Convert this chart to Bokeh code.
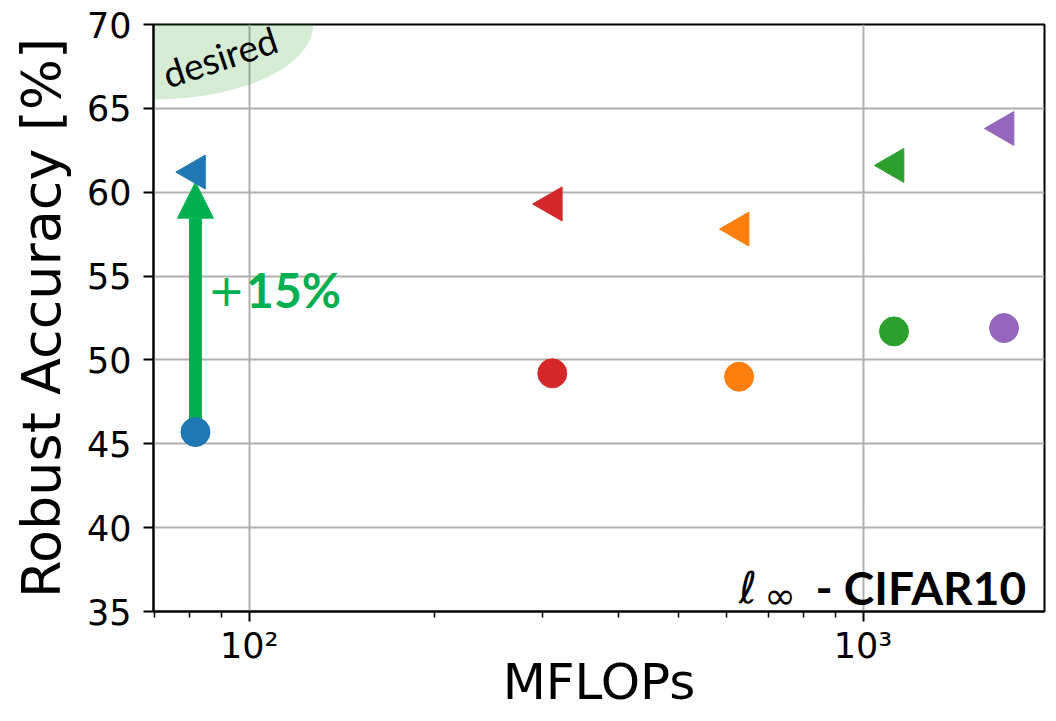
import numpy as np
from bokeh.plotting import figure
from bokeh.models import Range1d, FixedTicker, Arrow, NormalHead, ColumnDataSource
from bokeh.core.properties import value
from bokeh.embed import file_html
from bokeh.resources import INLINE

# ---- data ----
models = ["A", "B", "C", "D", "E"]
colors = ["#1f77b4", "#d62728", "#ff7f0e", "#2ca02c", "#9467bd"]
mflops = [81.7, 311.6, 628.0, 1123.0, 1697.0]
acc_baseline = [45.7, 49.2, 49.0, 51.7, 51.9]      # circles
acc_ours = [61.2, 59.3, 57.8, 61.6, 63.8]          # left triangles
y_ticks = [35, 40, 45, 50, 55, 60, 65, 70]
x_major = [100, 1000]
x_major_labels = {100: "10²", 1000: "10³"}
x_minor = [70, 80, 90, 200, 300, 400, 500, 600, 700, 800, 900, 2000]
gain_label = "15%"

GREEN = "#00b050"
FONT = "DejaVu Sans"

p = figure(width=1048, height=713, x_axis_type="log",
           x_range=Range1d(69.8, 1975), y_range=Range1d(35, 70),
           output_backend="svg", toolbar_location=None,
           min_border_left=153, min_border_right=4,
           min_border_top=24, min_border_bottom=100)
p.background_fill_color = "white"
p.border_fill_color = "white"
p.outline_line_color = "black"
p.outline_line_width = 2

# axes
p.xaxis.ticker = FixedTicker(ticks=x_major, minor_ticks=x_minor)
p.xaxis.major_label_overrides = x_major_labels
p.yaxis.ticker = FixedTicker(ticks=y_ticks)
for ax in (p.xaxis[0], p.yaxis[0]):
    ax.axis_line_width = 2
    ax.axis_line_color = "black"
    ax.major_tick_line_width = 2
    ax.minor_tick_line_width = 1.5
    ax.major_tick_out = 10
    ax.major_tick_in = 0
    ax.minor_tick_out = 6
    ax.minor_tick_in = 0
    ax.major_label_text_font = FONT
    ax.major_label_text_font_size = "35px"
    ax.major_label_text_color = "black"
    ax.axis_label_text_font = FONT
    ax.axis_label_text_font_style = "normal"
    ax.axis_label_text_color = "black"
p.yaxis.minor_tick_line_color = None
p.xaxis.axis_label = "MFLOPs"
p.yaxis.axis_label = "Robust Accuracy [%]"
p.xaxis.axis_label_text_font_size = "50px"
p.yaxis.axis_label_text_font_size = "54px"
p.xaxis.major_label_standoff = 4
p.yaxis.major_label_standoff = 12
p.xaxis.axis_label_standoff = -16
p.yaxis.axis_label_standoff = 11

# grid
p.xgrid.ticker = FixedTicker(ticks=x_major)
p.ygrid.ticker = FixedTicker(ticks=y_ticks)
for g in (p.xgrid[0], p.ygrid[0]):
    g.grid_line_color = "#b0b0b0"
    g.grid_line_width = 2
    g.minor_grid_line_color = None

# desired region
p.ellipse(x=[70], y=[70], width=318, height=150, width_units="screen",
          height_units="screen", fill_color="#2ca02c", fill_alpha=0.2,
          line_color=None)
p.text(x=[89.5], y=[68.1], text=["desired"], angle=0.32,
       text_font=value("Lato"), text_font_size="37px",
       text_align="center", text_baseline="middle", text_color="black")

# improvement arrow
arrow = Arrow(end=NormalHead(size=36, fill_color=GREEN, line_color=GREEN, line_width=1),
              x_start=mflops[0], y_start=acc_baseline[0],
              x_end=mflops[0], y_end=acc_ours[0] - 0.6,
              line_color=GREEN, line_width=13, level="underlay")
p.add_layout(arrow)

src = ColumnDataSource(dict(x=mflops, base=acc_baseline, ours=acc_ours, color=colors))
p.scatter("x", "base", source=src, marker="circle", size=29,
          fill_color="color", line_color="color")
p.scatter("x", "ours", source=src, marker="triangle", size=34, angle=np.pi / 2,
          fill_color="color", line_color="color")

# +15% annotation
p.text(x=[85.6], y=[54.2], text=["+"], text_font=value("DejaVu Sans"),
       text_font_size="44px", text_align="left", text_baseline="middle",
       text_color=GREEN)
p.text(x=[98.8], y=[54.2], text=[gain_label], text_font=value("Lato"),
       text_font_style="bold", text_font_size="48px", text_align="left",
       text_baseline="middle", text_color=GREEN)

# norm / dataset label
p.text(x=[628], y=[36.43], text=["ℓ"], text_font=value("DejaVu Sans"),
       text_font_style="italic", text_font_size="44px", text_align="left",
       text_baseline="alphabetic", text_color="black")
p.text(x=[690], y=[35.95], text=["∞"], text_font=value("DejaVu Sans"),
       text_font_size="38px", text_align="left", text_baseline="alphabetic",
       text_color="black")
p.text(x=[1843], y=[36.43], text=["- CIFAR10"], text_font=value("Lato"),
       text_font_style="bold", text_font_size="46px", text_align="right",
       text_baseline="alphabetic", text_color="black")

open("out.html", "w").write(file_html(p, INLINE))
